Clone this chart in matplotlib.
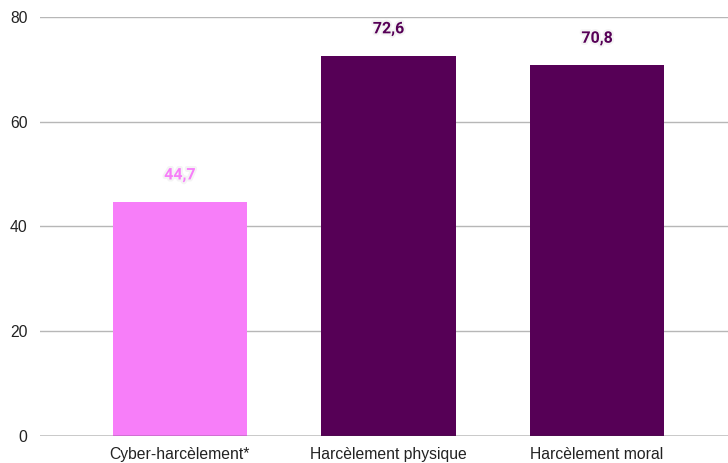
import matplotlib.pyplot as plt
import matplotlib.patheffects as pe

categories = ['Cyber-harcèlement*', 'Harcèlement physique', 'Harcèlement moral']
values = [44.7, 72.6, 70.8]
labels = ['44,7', '72,6', '70,8']
colors = ['#f77ef9', '#560056', '#560056']
yticks = [0, 20, 40, 60, 80]

plt.rcParams['font.family'] = ['Liberation Sans', 'DejaVu Sans']

fig = plt.figure(figsize=(7.28, 4.63), dpi=100)
ax = fig.add_axes([40/728, 27/463, 1 - 40/728, 419/463])

x = range(len(categories))
ax.bar(x, values, width=0.643, color=colors, zorder=3)

for xi, v, lab, c in zip(x, values, labels, colors):
    ax.annotate(lab, (xi, v), xytext=(0, 14), textcoords='offset points',
                ha='center', va='bottom', fontsize=11.5, fontweight='bold', color=c,
                family=['Roboto', 'DejaVu Sans'],
                path_effects=[pe.withStroke(linewidth=3, foreground='#f4f4f4')], zorder=4)

ax.set_xlim(-0.671, 2.628)
ax.set_ylim(0, 80)
ax.set_yticks(yticks)
ax.set_xticks(list(x))
ax.set_xticklabels(categories)
ax.tick_params(axis='both', length=0, labelsize=11.3, labelcolor='#222222')
ax.tick_params(axis='y', pad=9)
ax.tick_params(axis='x', pad=8)
ax.grid(axis='y', color='#b7b7b7', linewidth=1, zorder=0)
ax.axhline(0, color='#333333', linewidth=1, zorder=5)
for s in ax.spines.values():
    s.set_visible(False)

fig.savefig('out.png', dpi=100)
